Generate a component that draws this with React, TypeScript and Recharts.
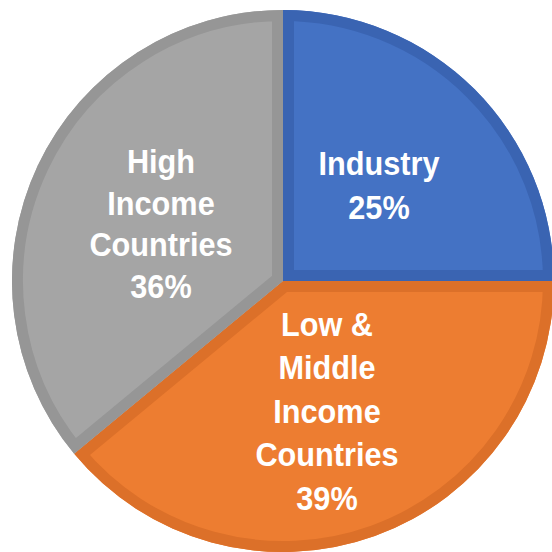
import React from 'react';
import { Cell, Pie, PieChart } from 'recharts';

const categories = ['Industry', 'Low & Middle Income Countries', 'High Income Countries'];
const shares = [25, 39, 36];
const labelLines = [
  ['Industry', '25%'],
  ['Low &', 'Middle', 'Income', 'Countries', '39%'],
  ['High', 'Income', 'Countries', '36%'],
];

const fills = ['#4472C4', '#ED7D31', '#A5A5A5'];
const borders = ['#3A64B2', '#DC7029', '#969696'];
// label block: center x offset from pie center, first baseline offset, line step
const labelPos = [
  { dx: 96, dy: -106, step: 44 },
  { dx: 44, dy: 55, step: 43.5 },
  { dx: -122, dy: -108, step: 41.7 },
];

const data = categories.map((name, i) => ({ name, value: shares[i] }));

const RAD = Math.PI / 180;

const pt = (cx: number, cy: number, r: number, a: number) => [cx + r * Math.cos(-a * RAD), cy + r * Math.sin(-a * RAD)];

const sectorPath = (cx: number, cy: number, r: number, start: number, end: number) => {
  const [x1, y1] = pt(cx, cy, r, start);
  const [x2, y2] = pt(cx, cy, r, end);
  const large = Math.abs(start - end) > 180 ? 1 : 0;
  const sweep = start > end ? 1 : 0;
  return `M${cx},${cy} L${x1},${y1} A${r},${r} 0 ${large} ${sweep} ${x2},${y2} Z`;
};

const renderLabel = (props: any) => {
  const { cx, cy, outerRadius, startAngle, endAngle, index } = props;
  const d = sectorPath(cx, cy, outerRadius, startAngle, endAngle);
  const pos = labelPos[index];
  const x = cx + pos.dx;
  return (
    <g>
      <defs>
        <clipPath id={`clip-${index}`}>
          <path d={d} />
        </clipPath>
      </defs>
      <path d={d} fill="none" stroke={borders[index]} strokeWidth={22} strokeLinejoin="miter" clipPath={`url(#clip-${index})`} />
      {labelLines[index].map((line, j) => (
        <text
          key={j}
          x={x}
          y={cy + pos.dy + j * pos.step}
          textAnchor="middle"
          fill="#fff"
          fontSize={33}
          fontWeight="bold"
          fontFamily="'Liberation Sans', Arial, sans-serif"
          transform={`matrix(0.93,0,0,1,${x * 0.07},0)`}
        >
          {line}
        </text>
      ))}
    </g>
  );
};

export default function App() {
  return (
    <div style={{ position: 'absolute', left: 0, top: 0, width: 552, height: 552, overflow: 'hidden' }}>
      <PieChart width={552} height={552} margin={{ top: 0, right: 0, bottom: 0, left: 0 }}>
        <Pie
          data={data}
          dataKey="value"
          nameKey="name"
          cx={283}
          cy={281}
          outerRadius={271}
          startAngle={90}
          endAngle={-270}
          stroke="none"
          label={renderLabel}
          labelLine={false}
          isAnimationActive={false}
        >
          {data.map((entry, i) => (
            <Cell key={`cell-${i}`} fill={fills[i]} />
          ))}
        </Pie>
      </PieChart>
    </div>
  );
}
